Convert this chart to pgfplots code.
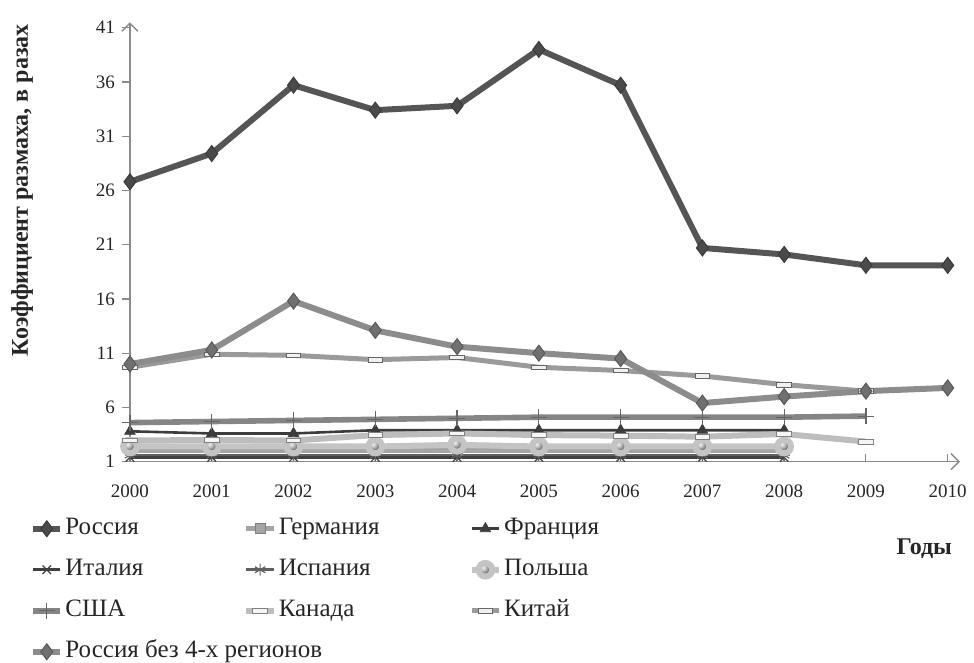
\documentclass[border=0pt]{standalone}
\usepackage{fontspec}
\setmainfont{Liberation Serif}
\usepackage{pgfplots}
\pgfplotsset{compat=1.18}
\usetikzlibrary{arrows.meta}

\definecolor{rusC}{HTML}{555555}
\definecolor{rusM}{HTML}{4A4A4A}
\definecolor{rus4C}{HTML}{8C8C8C}
\definecolor{rus4M}{HTML}{707070}
\definecolor{chinaC}{HTML}{9A9A9A}
\definecolor{usaC}{HTML}{858585}
\definecolor{canC}{HTML}{BDBDBD}
\definecolor{gerC}{HTML}{A5A5A5}
\definecolor{polC}{HTML}{C4C4C4}
\definecolor{fraC}{HTML}{3C3C3C}
\definecolor{itaC}{HTML}{404040}
\definecolor{spaC}{HTML}{606060}
\definecolor{axC}{HTML}{8A8A8A}

\pgfdeclareplotmark{hrect}{%
  \pgfpathrectangle{\pgfqpoint{-1.4\pgfplotmarksize}{-0.45\pgfplotmarksize}}{\pgfqpoint{2.8\pgfplotmarksize}{0.9\pgfplotmarksize}}%
  \pgfusepathqfillstroke}

\begin{document}
\begin{tikzpicture}
\begin{axis}[
  scale only axis, width=415pt, height=219.7pt,
  xmin=2000, xmax=2010.15, ymin=1, ymax=41.5,
  axis x line=bottom, axis y line=left,
  x axis line style={draw=axC, line width=0.7pt, -{Straight Barb[length=4pt,width=8pt]}},
  y axis line style={draw=axC, line width=0.7pt, -{Straight Barb[length=4pt,width=8pt]}},
  xtick={2000,...,2010}, ytick={1,6,...,41},
  major tick length=4pt,
  tick style={draw=axC, line width=0.6pt},
  xtick align=inside, ytick align=outside,
  /pgf/number format/assume math mode=true,
  /pgf/number format/1000 sep={},
  ticklabel style={font=\fontsize{9.5}{11}\selectfont, text=black!85},
  xticklabel style={yshift=-8pt},
  ylabel={Коэффициент размаха, в разах},
  ylabel style={at={(axis description cs:-0.130,0.618)}, anchor=center, font=\bfseries\fontsize{12}{14}\selectfont, text=black!85},
  xlabel={Годы},
  xlabel style={at={(axis description cs:0.957,-0.199)}, anchor=center, font=\bfseries\fontsize{12}{14}\selectfont, text=black!85},
  clip=false,
  legend columns=3,
  legend cell align=left,
  legend style={at={(-0.128,-0.113)}, anchor=north west, draw=none, fill=none,
    font=\fontsize{12.5}{14}\selectfont, text=black!85,
    column sep=0pt, row sep=7.5pt,
    nodes={inner sep=1pt, text height=8.5pt, text depth=2.5pt}},
  legend image code/.code={\draw[mark repeat=2,mark phase=2] plot coordinates {(0cm,0cm) (0.24cm,0cm) (0.48cm,0cm)};},
]
% Россия
\addplot[color=rusC, line width=3pt, mark=diamond*, mark size=4pt,
  mark options={fill=rusM, draw=rusM!80!black, line width=0.5pt}]
  coordinates {(2000,26.8) (2001,29.4) (2002,35.7) (2003,33.4) (2004,33.8) (2005,39.0) (2006,35.7) (2007,20.7) (2008,20.1) (2009,19.1) (2010,19.1)};
\addlegendentry{\makebox[88pt][l]{Россия}}
% Германия
\addplot[color=gerC, line width=2.5pt, mark=square*, mark size=2.5pt,
  mark options={fill=gerC, draw=gray, line width=0.4pt}]
  coordinates {(2000,2.0) (2001,2.0) (2002,2.0) (2003,2.0) (2004,2.0) (2005,2.0) (2006,2.0) (2007,2.0) (2008,2.0)};
\addlegendentry{\makebox[94pt][l]{Германия}}
% Франция
\addplot[color=fraC, line width=1.3pt, mark=triangle*, mark size=3pt,
  mark options={fill=fraC, draw=fraC, line width=0.4pt}]
  coordinates {(2000,3.8) (2001,3.6) (2002,3.6) (2003,3.9) (2004,3.9) (2005,3.9) (2006,3.9) (2007,3.9) (2008,3.9)};
\addlegendentry{Франция}
% Италия
\addplot[color=itaC, line width=1.3pt, mark=x, mark size=3pt,
  mark options={draw=itaC, line width=0.6pt}]
  coordinates {(2000,1.4) (2001,1.4) (2002,1.4) (2003,1.4) (2004,1.4) (2005,1.4) (2006,1.4) (2007,1.4) (2008,1.4)};
\addlegendentry{\makebox[88pt][l]{Италия}}
% Испания
\addplot[color=spaC, line width=1.3pt, mark=asterisk, mark size=3pt,
  mark options={draw=spaC, line width=0.6pt}]
  coordinates {(2000,1.6) (2001,1.6) (2002,1.6) (2003,1.6) (2004,1.6) (2005,1.6) (2006,1.6) (2007,1.6) (2008,1.6)};
\addlegendentry{\makebox[94pt][l]{Испания}}
% Польша
\addplot[color=polC, line width=3pt, mark=ball, mark size=3.4pt,
  mark options={ball color=gray!60}]
  coordinates {(2000,2.4) (2001,2.4) (2002,2.4) (2003,2.4) (2004,2.55) (2005,2.4) (2006,2.4) (2007,2.4) (2008,2.4)};
\addlegendentry{Польша}
% США
\addplot[color=usaC, line width=2.8pt, mark=+, mark size=4pt,
  mark options={draw=gray!80!black, line width=0.6pt}]
  coordinates {(2000,4.6) (2001,4.7) (2002,4.8) (2003,4.9) (2004,5.0) (2005,5.1) (2006,5.1) (2007,5.1) (2008,5.1) (2009,5.2)};
\addlegendentry{\makebox[88pt][l]{США}}
% Канада
\addplot[color=canC, line width=3pt, mark=hrect, mark size=2.6pt,
  mark options={fill=white!92!gray, draw=gray, line width=0.4pt}]
  coordinates {(2000,2.95) (2001,3.0) (2002,2.95) (2003,3.45) (2004,3.6) (2005,3.45) (2006,3.4) (2007,3.3) (2008,3.55) (2009,2.85)};
\addlegendentry{\makebox[94pt][l]{Канада}}
% Китай
\addplot[color=chinaC, line width=2.5pt, mark=hrect, mark size=2.6pt,
  mark options={fill=white!88!gray, draw=gray!80!black, line width=0.4pt}]
  coordinates {(2000,9.7) (2001,10.9) (2002,10.8) (2003,10.4) (2004,10.6) (2005,9.7) (2006,9.4) (2007,8.9) (2008,8.1) (2009,7.5)};
\addlegendentry{Китай}
% Россия без 4-х регионов
\addplot[color=rus4C, line width=3pt, mark=diamond*, mark size=4pt,
  mark options={fill=rus4M, draw=rus4M!80!black, line width=0.5pt}]
  coordinates {(2000,10.0) (2001,11.3) (2002,15.8) (2003,13.1) (2004,11.6) (2005,11.0) (2006,10.5) (2007,6.4) (2008,7.0) (2009,7.5) (2010,7.8)};
\addlegendentry{\makebox[88pt][l]{Россия без 4-х регионов}}

\coordinate (bbA) at (axis description cs:-0.1566,-0.4581);
\coordinate (bbB) at (axis description cs:1.0169,1.0507);
\end{axis}
\pgfresetboundingbox
\useasboundingbox (bbA) rectangle (bbB);
\end{tikzpicture}
\end{document}
